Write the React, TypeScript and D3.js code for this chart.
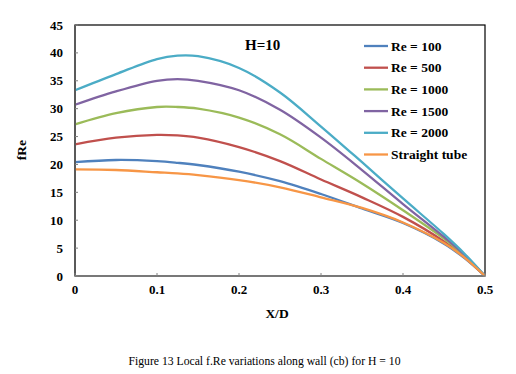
import React from 'react';
import * as d3 from 'd3';

const xPos = [0, 0.05, 0.1, 0.125, 0.15, 0.2, 0.25, 0.3, 0.35, 0.4, 0.45, 0.475, 0.5];

const re100 = [20.4, 20.8, 20.6, 20.3, 19.9, 18.7, 17.0, 14.7, 12.1, 9.5, 5.8, 3.2, 0];
const re500 = [23.6, 24.8, 25.3, 25.2, 24.8, 23.1, 20.6, 17.3, 14.1, 10.6, 6.2, 3.4, 0];
const re1000 = [27.2, 29.2, 30.3, 30.3, 30.0, 28.4, 25.4, 21.0, 16.6, 11.8, 6.7, 3.6, 0];
const re1500 = [30.7, 33.1, 35.0, 35.3, 35.0, 33.3, 29.8, 24.8, 19.0, 12.9, 7.0, 3.8, 0];
const re2000 = [33.3, 36.2, 38.9, 39.5, 39.4, 37.3, 32.9, 26.8, 20.4, 13.9, 7.5, 4.0, 0];
const straight = [19.1, 19.0, 18.6, 18.4, 18.1, 17.2, 15.9, 14.1, 12.2, 9.6, 5.9, 3.3, 0];

const seriesNames = ['Re = 100', 'Re = 500', 'Re = 1000', 'Re = 1500', 'Re = 2000', 'Straight tube'];
const seriesValues = [re100, re500, re1000, re1500, re2000, straight];
const seriesColors = ['#4F81BD', '#C0504D', '#9BBB59', '#8064A2', '#4BACC6', '#F79646'];

const xTicks = [0, 0.1, 0.2, 0.3, 0.4, 0.5];
const yTicks = [0, 5, 10, 15, 20, 25, 30, 35, 40, 45];

const serif = '"Liberation Serif", "Times New Roman", serif';

export default function App() {
  const left = 75, right = 485, top = 25, bottom = 276;
  const x = d3.scaleLinear().domain([0, 0.5]).range([left, right]);
  const y = d3.scaleLinear().domain([0, 45]).range([bottom, top]);

  const line = d3.line<number>()
    .x((_, i) => x(xPos[i]))
    .y(d => y(d))
    .curve(d3.curveCatmullRom.alpha(0.5));

  return (
    <div style={{ position: 'absolute', left: 0, top: 0 }}>
      <svg width={516} height={374} style={{ display: 'block', background: '#fff' }}
        fontFamily={serif}>
        {/* plot frame */}
        <rect x={left} y={top} width={right - left} height={bottom - top} fill="none" stroke="#000" strokeWidth={1.2} />

        {seriesValues.map((vals, i) => (
          <path key={seriesNames[i]} d={line(vals) || ''} fill="none" stroke={seriesColors[i]} strokeWidth={2.3} />
        ))}

        {/* axes */}
        <line x1={left} x2={left} y1={top} y2={bottom} stroke="#595959" strokeWidth={1.8} />
        <line x1={left} x2={right} y1={bottom} y2={bottom} stroke="#7f7f7f" strokeWidth={1.5} />

        {yTicks.map(t => (
          <g key={'y' + t}>
            <line x1={left} x2={left + 3} y1={y(t)} y2={y(t)} stroke="#808080" />
            <text x={63} y={y(t) + 4.5} textAnchor="end" fontSize={13} fontWeight="bold">{t}</text>
          </g>
        ))}
        {xTicks.map(t => (
          <g key={'x' + t}>
            <line x1={x(t)} x2={x(t)} y1={bottom} y2={bottom - 3} stroke="#808080" />
            <text x={x(t)} y={293.5} textAnchor="middle" fontSize={13} fontWeight="bold">{t}</text>
          </g>
        ))}

        <text x={245} y={50} fontSize={15} fontWeight="bold">H=10</text>

        {seriesNames.map((name, i) => {
          const ly = 46 + i * 21.7;
          return (
            <g key={'l' + name}>
              <line x1={364} x2={388} y1={ly} y2={ly} stroke={seriesColors[i]} strokeWidth={2.3} />
              <text x={391} y={ly + 4.5} fontSize={13.5} fontWeight="bold">{name}</text>
            </g>
          );
        })}

        <text transform="translate(26,150) rotate(-90)" textAnchor="middle" fontSize={13.5} fontWeight="bold">fRe</text>
        <text x={277} y={318} textAnchor="middle" fontSize={13.5} fontWeight="bold">X/D</text>
        <text x={264.5} y={365} textAnchor="middle" fontSize={11.7}>Figure 13 Local f.Re variations along wall (cb) for H = 10</text>
      </svg>
    </div>
  );
}
